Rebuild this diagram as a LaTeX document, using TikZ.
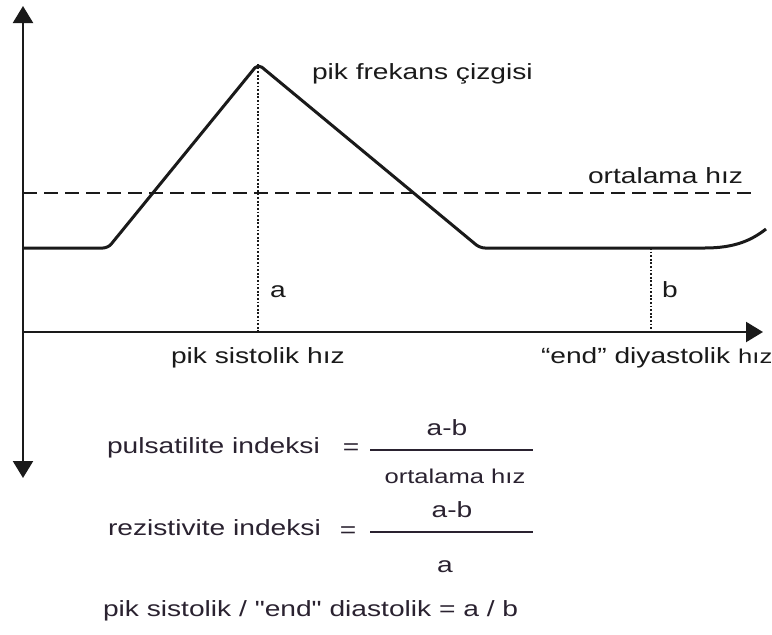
\documentclass[tikz,border=0pt]{standalone}
\usepackage{fontspec}
\setmainfont{Liberation Sans}
\usetikzlibrary{arrows.meta}
\definecolor{ink}{HTML}{1A1A1A}
\definecolor{formula}{HTML}{2A2230}
\newcommand{\wtext}[1]{\scalebox{1.28}[1]{#1}}
\tikzset{
  lbl/.style={inner sep=0pt, outer sep=0pt, text=ink, font=\fontsize{22}{26}\selectfont},
  flbl/.style={lbl, text=formula},
  small/.style={font=\fontsize{20}{24}\selectfont},
  axis/.style={draw=ink, line width=2.3pt, -{Triangle[length=17pt,width=20pt]}},
  curve/.style={draw=ink, line width=3pt, line join=round, rounded corners=5pt},
  meanline/.style={draw=ink, line width=2.2pt, dash pattern=on 14pt off 7pt},
  dotline/.style={draw=ink, line width=2.3pt, dash pattern=on 1.8pt off 1.8pt},
  fracbar/.style={draw=formula, line width=2.4pt}
}
\begin{document}
\begin{tikzpicture}[x=1pt,y=-1pt]
\useasboundingbox (0,0) rectangle (772,635);
% axes
\coordinate (O) at (23,332);
\coordinate (Ytop) at (23,6);
\coordinate (Ybot) at (23,478);
\coordinate (Xend) at (763,332);
\draw[axis] (O) -- (Ytop);
\draw[axis] (O) -- (Ybot);
\draw[axis] (O) -- (Xend);
% curve
\coordinate (c0) at (23,248);
\coordinate (c1) at (108,248);
\coordinate (peak) at (258,64);
\coordinate (c2) at (480,248);
\coordinate (c3) at (700,248);
\coordinate (c4) at (766,229);
\draw[curve] (c0) -- (c1) -- (peak) -- (c2) -- (c3) .. controls (735,248) and (752,240) .. (c4);
% mean velocity
\coordinate (m0) at (23,193);
\coordinate (m1) at (753,193);
\draw[meanline] (m0) -- (m1);
% dotted verticals
\coordinate (pa) at (258,332);
\coordinate (bt) at (651,248);
\coordinate (bb) at (651,332);
\draw[dotline] (peak) -- (pa);
\draw[dotline] (bt) -- (bb);
% labels
\node[lbl, anchor=base west] (tpik) at (312,79) {\wtext{pik frekans çizgisi}};
\node[lbl, anchor=base west] (tort) at (588,183) {\wtext{ortalama hız}};
\node[lbl, anchor=base west] (ta) at (270,297) {\wtext{a}};
\node[lbl, anchor=base west] (tb) at (662,297) {\wtext{b}};
\node[lbl, anchor=base west] (tps) at (171,363) {\wtext{pik sistolik hız}};
\node[lbl, anchor=base west] (ted) at (541,363) {\wtext{“end” diyastolik {\fontsize{20}{24}\selectfont hız}}};
% formula 1
\node[flbl, anchor=base west] (f1) at (107,453) {\wtext{pulsatilite indeksi}};
\node[flbl] (eq1) at (351,449) {\wtext{=}};
\coordinate (b1l) at (370,450);
\coordinate (b1r) at (533,450);
\draw[fracbar] (b1l) -- (b1r);
\node[flbl, anchor=base] (n1) at (447,435) {\wtext{a-b}};
\node[flbl, small, anchor=base] (d1) at (455,483) {\wtext{ortalama hız}};
% formula 2
\node[flbl, anchor=base west] (f2) at (108,535) {\wtext{rezistivite indeksi}};
\node[flbl] (eq2) at (348,532) {\wtext{=}};
\coordinate (b2l) at (370,532);
\coordinate (b2r) at (533,532);
\draw[fracbar] (b2l) -- (b2r);
\node[flbl, anchor=base] (n2) at (452,517) {\wtext{a-b}};
\node[flbl, anchor=base] (d2) at (445,572) {\wtext{a}};
% formula 3
\node[flbl, anchor=base west] (f3) at (103,616) {\wtext{pik sistolik / \textquotedbl end\textquotedbl\ diastolik = a / b}};
\end{tikzpicture}
\end{document}
